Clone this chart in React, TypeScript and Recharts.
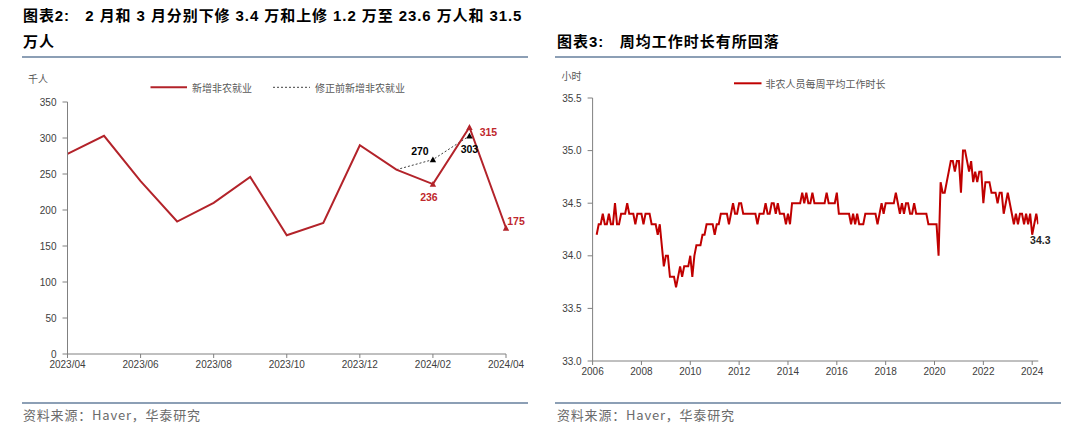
import React from 'react';
import { LineChart, Line, XAxis, YAxis, LabelList } from 'recharts';

// ---------- Left chart data: 新增非农就业 (千人) ----------
const payrollMonths = [
  '2023/04', '2023/05', '2023/06', '2023/07', '2023/08', '2023/09', '2023/10',
  '2023/11', '2023/12', '2024/01', '2024/02', '2024/03', '2024/04',
];
const payrollRevised = [278, 303, 240, 184, 210, 246, 165, 182, 290, 256, 236, 315, 175];
const payrollPreRevision = [null, null, null, null, null, null, null, null, null, 256, 270, 303, null];
const payrollTicks = [0, 50, 100, 150, 200, 250, 300, 350];

// ---------- Right chart data: 非农人员每周平均工作时长 (小时), monthly from 2006/03 ----------
const hoursStartYear = 2006;
const hoursStartMonth = 3;
const hours = [
  // 2006 (Mar-Dec)
  34.2, 34.3, 34.3, 34.4, 34.3, 34.3, 34.4, 34.3, 34.3, 34.5,
  // 2007
  34.3, 34.3, 34.4, 34.4, 34.4, 34.5, 34.4, 34.4, 34.4, 34.3, 34.4, 34.4,
  // 2008
  34.4, 34.3, 34.4, 34.4, 34.4, 34.3, 34.3, 34.3, 34.2, 34.3, 34.1, 33.9,
  // 2009
  34.0, 34.0, 33.8, 33.8, 33.8, 33.7, 33.8, 33.9, 33.8, 33.9, 33.9, 33.9,
  // 2010
  34.0, 33.8, 34.0, 34.1, 34.1, 34.1, 34.2, 34.2, 34.3, 34.3, 34.3, 34.3,
  // 2011
  34.2, 34.3, 34.3, 34.4, 34.4, 34.4, 34.4, 34.3, 34.4, 34.5, 34.4, 34.4,
  // 2012
  34.5, 34.5, 34.4, 34.4, 34.4, 34.4, 34.4, 34.4, 34.4, 34.3, 34.4, 34.4,
  // 2013
  34.4, 34.5, 34.4, 34.4, 34.5, 34.5, 34.4, 34.5, 34.4, 34.4, 34.4, 34.3,
  // 2014
  34.4, 34.3, 34.5, 34.5, 34.5, 34.5, 34.5, 34.6, 34.5, 34.6, 34.5, 34.5,
  // 2015
  34.6, 34.5, 34.5, 34.5, 34.5, 34.5, 34.5, 34.6, 34.5, 34.5, 34.5, 34.5,
  // 2016
  34.6, 34.4, 34.4, 34.4, 34.4, 34.4, 34.4, 34.3, 34.4, 34.3, 34.4, 34.3,
  // 2017
  34.3, 34.3, 34.4, 34.4, 34.4, 34.4, 34.4, 34.4, 34.3, 34.4, 34.5, 34.4,
  // 2018
  34.5, 34.5, 34.5, 34.5, 34.5, 34.6, 34.5, 34.4, 34.5, 34.4, 34.5, 34.5,
  // 2019
  34.4, 34.4, 34.5, 34.4, 34.4, 34.4, 34.4, 34.4, 34.4, 34.3, 34.3, 34.3,
  // 2020
  34.3, 34.3, 34.0, 34.7, 34.6, 34.6, 34.7, 34.8, 34.9, 34.9, 34.8, 34.9,
  // 2021
  34.9, 34.6, 35.0, 35.0, 34.9, 34.8, 34.9, 34.7, 34.8, 34.7, 34.8, 34.8,
  // 2022
  34.5, 34.7, 34.7, 34.7, 34.6, 34.6, 34.6, 34.5, 34.6, 34.6, 34.4, 34.5,
  // 2023
  34.6, 34.5, 34.4, 34.3, 34.4, 34.3, 34.4, 34.4, 34.3, 34.4, 34.3, 34.4,
  // 2024 (Jan-Apr)
  34.2, 34.3, 34.4, 34.3,
];
const hourYearTicks = [2006, 2008, 2010, 2012, 2014, 2016, 2018, 2020, 2022, 2024];
const hourValueTicks = [33.0, 33.5, 34.0, 34.5, 35.0, 35.5];

// ---------- built tables ----------
const payrollData = payrollMonths.map((m, i) => ({
  month: m,
  nfp: payrollRevised[i],
  pre: payrollPreRevision[i],
}));

const hoursData = hours.map((v, i) => ({
  t: hoursStartYear + (hoursStartMonth - 1 + i) / 12,
  v,
}));

// ---------- styles ----------
const FONT = '"Liberation Sans", Arial, "Noto Sans CJK SC", sans-serif';
const CJK = '"Noto Sans CJK SC", "Liberation Sans", sans-serif';
const RED_LEFT = '#B3232A';
const RED = '#C00000';
const RED_TEXT = '#C0282D';
const AXIS = '#808080';
const TICK_TEXT = '#404040';
const RULE = '#8C9FB5';

const redMarks = [10, 11, 12];
const blackMarks = [10, 11];

const triangle = (cx: number, cy: number, color: string, key: any) => {
  const s = 3.2;
  return (
    <path
      key={key}
      d={`M${cx},${cy - s} L${cx + s},${cy + s * 0.85} L${cx - s},${cy + s * 0.85} Z`}
      fill={color}
    />
  );
};

const redDot = (props: any) => {
  const { cx, cy, index } = props;
  if (!redMarks.includes(index) || cy == null || cx == null) return <g key={`r${index}`} />;
  return triangle(cx, cy, RED_LEFT, `r${index}`);
};

const blackDot = (props: any) => {
  const { cx, cy, index } = props;
  if (!blackMarks.includes(index) || cy == null || cx == null) return <g key={`b${index}`} />;
  return triangle(cx, cy, '#000000', `b${index}`);
};

const labelStyle = { fontFamily: FONT, fontSize: 10.5, fontWeight: 700 } as const;

const redLabelOffsets: Record<number, [number, number]> = {
  10: [-4, 13],
  11: [19, 5],
  12: [10, -7],
};
const blackLabelOffsets: Record<number, [number, number]> = {
  10: [-13, -9],
  11: [0, 13],
};

const redLabel = (props: any) => {
  const { x, y, value, index } = props;
  const off = redLabelOffsets[index];
  if (!off || value == null) return null;
  return (
    <text
      x={x + off[0]}
      y={y + off[1]}
      textAnchor="middle"
      dominantBaseline="central"
      fill={RED_TEXT}
      style={labelStyle}
    >
      {value}
    </text>
  );
};

const blackLabel = (props: any) => {
  const { x, y, value, index } = props;
  const off = blackLabelOffsets[index];
  if (!off || value == null) return null;
  return (
    <text
      x={x + off[0]}
      y={y + off[1]}
      textAnchor="middle"
      dominantBaseline="central"
      fill="#000000"
      style={labelStyle}
    >
      {value}
    </text>
  );
};

const lastHourLabel = (props: any) => {
  const { x, y, value, index } = props;
  if (index !== hours.length - 1) return null;
  return (
    <text
      x={x + 2}
      y={y + 16}
      textAnchor="middle"
      dominantBaseline="central"
      fill="#262626"
      style={labelStyle}
    >
      {Number(value).toFixed(1)}
    </text>
  );
};

const tickStyle = { fill: TICK_TEXT, fontSize: 10, fontFamily: FONT };

export default function App() {
  return (
    <div
      style={{
        position: 'absolute',
        left: 0,
        top: 0,
        width: 1080,
        height: 438,
        background: '#ffffff',
        fontFamily: FONT,
        overflow: 'hidden',
      }}
    >
      {/* Titles */}
      <div
        style={{
          position: 'absolute',
          left: 23,
          top: 3,
          fontSize: 15,
          fontWeight: 700,
          lineHeight: '26px',
          color: '#000',
          whiteSpace: 'nowrap',
          fontFamily: FONT,
          letterSpacing: 0.92,
        }}
      >
        <div>图表2:&nbsp;&nbsp; 2 月和 3 月分别下修 3.4 万和上修 1.2 万至 23.6 万人和 31.5</div>
        <div>万人</div>
      </div>
      <div
        style={{
          position: 'absolute',
          left: 557,
          top: 29,
          fontSize: 15,
          fontWeight: 700,
          lineHeight: '26px',
          color: '#000',
          whiteSpace: 'nowrap',
          fontFamily: FONT,
          letterSpacing: 1.0,
        }}
      >
        图表3:&nbsp;&nbsp; 周均工作时长有所回落
      </div>
      <div style={{ position: 'absolute', left: 22, top: 56, width: 506, height: 2, background: RULE }} />
      <div style={{ position: 'absolute', left: 555, top: 56, width: 506, height: 2, background: RULE }} />

      {/* Bottom rules & sources */}
      <div style={{ position: 'absolute', left: 22, top: 402, width: 506, height: 2, background: RULE }} />
      <div style={{ position: 'absolute', left: 555, top: 402, width: 506, height: 2, background: RULE }} />
      <div
        style={{
          position: 'absolute',
          left: 23,
          top: 405,
          fontSize: 13,
          color: '#6b6b6b',
          fontFamily: CJK,
          whiteSpace: 'nowrap',
          letterSpacing: 0.8,
        }}
      >
        资料来源：Haver，华泰研究
      </div>
      <div
        style={{
          position: 'absolute',
          left: 557,
          top: 405,
          fontSize: 13,
          color: '#6b6b6b',
          fontFamily: CJK,
          whiteSpace: 'nowrap',
          letterSpacing: 0.8,
        }}
      >
        资料来源：Haver，华泰研究
      </div>

      {/* Left chart */}
      <div style={{ position: 'absolute', left: 0, top: 0 }}>
        <LineChart
          width={540}
          height={438}
          data={payrollData}
          margin={{ top: 102, right: 34, bottom: 54, left: 0 }}
        >
          <XAxis
            dataKey="month"
            interval={1}
            height={30}
            tick={tickStyle}
            tickSize={4}
            tickMargin={3}
            axisLine={{ stroke: AXIS }}
            tickLine={{ stroke: AXIS }}
          />
          <YAxis
            domain={[0, 350]}
            ticks={payrollTicks}
            width={67.5}
            tick={tickStyle}
            tickSize={5}
            tickMargin={6}
            axisLine={{ stroke: AXIS }}
            tickLine={{ stroke: AXIS }}
            interval={0}
          />
          <Line
            type="linear"
            dataKey="pre"
            stroke="#404040"
            strokeWidth={1}
            strokeDasharray="2 2"
            dot={blackDot}
            activeDot={false}
            connectNulls={false}
            isAnimationActive={false}
          >
            <LabelList dataKey="pre" content={blackLabel} />
          </Line>
          <Line
            type="linear"
            dataKey="nfp"
            stroke={RED_LEFT}
            strokeWidth={2}
            dot={redDot}
            activeDot={false}
            isAnimationActive={false}
          >
            <LabelList dataKey="nfp" content={redLabel} />
          </Line>
        </LineChart>
      </div>

      {/* Right chart */}
      <div style={{ position: 'absolute', left: 540, top: 0 }}>
        <LineChart
          width={540}
          height={438}
          data={hoursData}
          margin={{ top: 98, right: 41.7, bottom: 47, left: 0 }}
        >
          <XAxis
            dataKey="t"
            type="number"
            domain={[2006, 2024.25]}
            ticks={hourYearTicks}
            allowDataOverflow
            interval={0}
            height={30}
            tick={tickStyle}
            tickSize={4}
            tickMargin={3}
            tickFormatter={(v: number) => String(Math.round(v))}
            axisLine={{ stroke: AXIS }}
            tickLine={{ stroke: AXIS }}
          />
          <YAxis
            domain={[33, 35.5]}
            ticks={hourValueTicks}
            width={52.6}
            tick={tickStyle}
            tickSize={5}
            tickMargin={6}
            interval={0}
            tickFormatter={(v: number) => v.toFixed(1)}
            axisLine={{ stroke: AXIS }}
            tickLine={{ stroke: AXIS }}
          />
          <Line
            type="linear"
            dataKey="v"
            stroke={RED}
            strokeWidth={2}
            dot={false}
            activeDot={false}
            isAnimationActive={false}
          >
            <LabelList dataKey="v" content={lastHourLabel} />
          </Line>
        </LineChart>
      </div>

      {/* Axis units & legends */}
      <svg
        width={1080}
        height={438}
        style={{ position: 'absolute', left: 0, top: 0, pointerEvents: 'none' }}
      >
        <text x={28} y={78} dominantBaseline="central" fontSize={10} fill="#595959" fontFamily={CJK}>
          千人
        </text>
        <line x1={150.5} y1={87.3} x2={187} y2={87.3} stroke={RED_LEFT} strokeWidth={2} />
        <text x={192} y={87.3} dominantBaseline="central" fontSize={10} fill="#595959" fontFamily={CJK}>
          新增非农就业
        </text>
        <line x1={273} y1={87.3} x2={310} y2={87.3} stroke="#404040" strokeWidth={1} strokeDasharray="2 2" />
        <text x={315} y={87.3} dominantBaseline="central" fontSize={10} fill="#595959" fontFamily={CJK}>
          修正前新增非农就业
        </text>

        <text x={561.5} y={75} dominantBaseline="central" fontSize={10} fill="#595959" fontFamily={CJK}>
          小时
        </text>
        <line x1={734} y1={83.3} x2={761.5} y2={83.3} stroke={RED} strokeWidth={2} />
        <text x={765.6} y={83.3} dominantBaseline="central" fontSize={10} fill="#595959" fontFamily={CJK}>
          非农人员每周平均工作时长
        </text>
      </svg>
    </div>
  );
}
